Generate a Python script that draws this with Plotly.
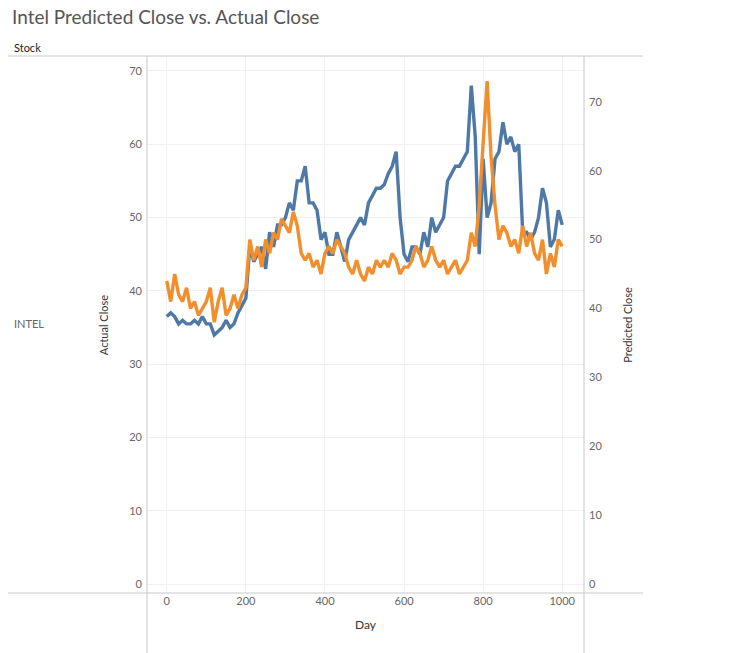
import plotly.graph_objects as go

days = list(range(0, 1001, 10))

actual_close = [
    36.5, 37, 36.5, 35.5, 36, 35.5, 35.5, 36, 35.5, 36.5,
    35.5, 35.5, 34, 34.5, 35, 36, 35, 35.5, 37, 38,
    39, 46, 44, 45, 46, 43, 48, 46, 49, 49,
    50, 52, 51, 55, 55, 57, 52, 52, 51, 47,
    48, 45, 45, 48, 46, 44, 47, 48, 49, 50,
    49, 52, 53, 54, 54, 54.5, 56, 57, 59, 50,
    45, 44, 46, 46, 45, 48, 46, 50, 48, 49,
    50, 55, 56, 57, 57, 58, 59, 68, 61, 45,
    58, 50, 52, 58, 59, 63, 60, 61, 59, 60,
    48, 48, 47, 48, 50, 54, 52, 46, 47, 51,
    49,
]

predicted_close = [
    44, 41, 45, 42, 41, 43, 40, 41, 39, 40,
    41, 43, 38, 41, 43, 39, 40, 42, 40, 42,
    43, 50, 47, 49, 46, 50, 48, 51, 50, 53,
    52, 51, 54, 52, 48, 47, 48, 46, 47, 45,
    48, 49, 48, 50, 49, 48, 46, 45, 47, 45,
    44, 46, 45, 47, 46, 47, 46, 48, 47, 45,
    46, 46, 47, 49, 48, 46, 47, 49, 47, 46,
    47, 45, 46, 47, 45, 46, 47, 51, 49, 55,
    65, 73, 62, 55, 50, 52, 51, 49, 50, 48,
    52, 49, 51, 48, 47, 50, 45, 48, 46, 50,
    49,
]

# page has an 8px body margin, so work in window pixels minus the offset
OFF = 8
W, H = 724, 645
px = lambda x: (x - OFF) / W
py = lambda y: 1 - (y - OFF) / H

gray = "#666666"
font = "Lato, Open Sans, sans-serif"

fig = go.Figure()
fig.add_trace(go.Scatter(x=days, y=actual_close, mode="lines", name="Actual Close",
                         line=dict(color="#4e79a7", width=3.4), yaxis="y"))
fig.add_trace(go.Scatter(x=days, y=predicted_close, mode="lines", name="Predicted Close",
                         line=dict(color="#f28e2b", width=3.4), yaxis="y2"))

fig.update_layout(
    width=W, height=H, margin=dict(l=0, r=0, t=0, b=0),
    plot_bgcolor="white", paper_bgcolor="white", showlegend=False,
    font=dict(family=font, color=gray, size=11),
    xaxis=dict(domain=[px(147), px(584)], range=[-50, 1055],
               tickvals=[0, 200, 400, 600, 800, 1000], showgrid=True,
               gridcolor="#f0f0f0", zeroline=False, ticks="",
               title=dict(text="Day", font=dict(size=12, color="#333"), standoff=14)),
    yaxis=dict(domain=[py(593), py(57)], range=[-1.2, 71.9],
               tickvals=list(range(0, 71, 10)), gridcolor="#f0f0f0",
               zeroline=False, ticks="", ticklabelstandoff=4,
               title=dict(text="Actual Close", font=dict(size=11, color="#333"), standoff=18)),
    yaxis2=dict(overlaying="y", side="right", range=[-1.3, 76.5],
                tickvals=list(range(0, 71, 10)), showgrid=False, zeroline=False,
                ticks="", ticklabelstandoff=4,
                title=dict(text="Predicted Close", font=dict(size=11, color="#333"), standoff=22)),
)

line = dict(color="#c8c8c8", width=1)
fig.add_shape(type="line", xref="paper", yref="paper", x0=0, x1=px(643),
              y0=py(56), y1=py(56), line=line)
fig.add_shape(type="line", xref="paper", yref="paper", x0=0, x1=px(643),
              y0=py(593), y1=py(593), line=line)
fig.add_shape(type="line", xref="paper", yref="paper", x0=px(147), x1=px(147),
              y0=0, y1=py(56), line=line)
fig.add_shape(type="line", xref="paper", yref="paper", x0=px(584), x1=px(584),
              y0=0, y1=py(56), line=line)

fig.add_annotation(text="Intel Predicted Close vs. Actual Close", xref="paper", yref="paper",
                   x=px(10), y=py(3), xanchor="left", yanchor="top", showarrow=False,
                   font=dict(size=19, color="#555"))
fig.add_annotation(text="Stock", xref="paper", yref="paper", x=px(12), y=py(39),
                   xanchor="left", yanchor="top", showarrow=False,
                   font=dict(size=11, color="#222"))
fig.add_annotation(text="INTEL", xref="paper", yref="paper", x=px(12), y=py(323),
                   xanchor="left", yanchor="middle", showarrow=False,
                   font=dict(size=11, color=gray))

fig.write_html("out.html")
